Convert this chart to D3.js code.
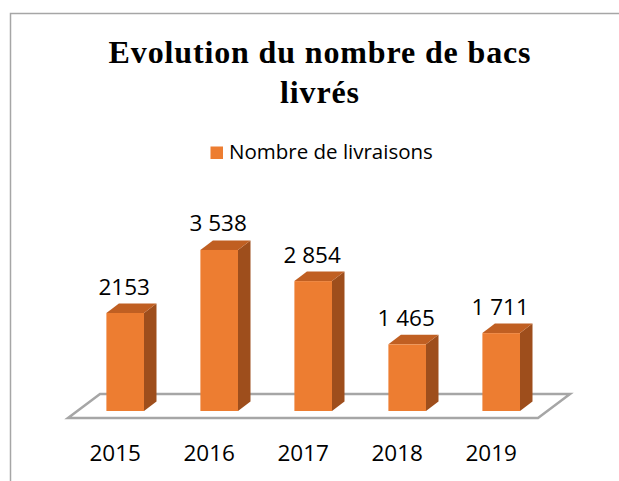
<!DOCTYPE html>
<html>
<head>
<meta charset="utf-8">
<script src="https://cdn.jsdelivr.net/npm/d3@7"></script>
<style>
  html, body { margin: 0; padding: 0; background: #fff; }
  svg { display: block; }
</style>
</head>
<body>
<svg id="chart" width="619" height="481"></svg>
<script>
// ---- data ----
const years = ["2015", "2016", "2017", "2018", "2019"];
const livraisons = [2153, 3538, 2854, 1465, 1711];
const valueLabels = ["2153", "3 538", "2 854", "1 465", "1 711"];
const seriesName = "Nombre de livraisons";
const titleLines = ["Evolution du nombre de bacs", "livrés"];

const svg = d3.select("#chart");
const W = 619, H = 481;

const colFront = "#ED7D31", colSide = "#9E4E1C", colTop = "#C05F22";
const gridGray = "#A6A6A6";

// frame (top + left edges visible)
svg.append("path")
  .attr("d", `M10.5,${H} L10.5,13.5 L${W},13.5`)
  .attr("fill", "none").attr("stroke", gridGray).attr("stroke-width", 1.5);

// title
const title = svg.append("text")
  .attr("text-anchor", "middle")
  .attr("font-family", "'Liberation Serif', 'Times New Roman', serif")
  .attr("font-weight", "bold")
  .attr("font-size", 32)
  .attr("fill", "#000");
title.selectAll("tspan").data(titleLines).join("tspan")
  .attr("x", 320)
  .attr("y", (d, i) => 63 + i * 39.5)
  .text(d => d);
// widen first line to the reference width with letter spacing
const first = title.select("tspan").node();
const w0 = first.getComputedTextLength();
const nChars = titleLines[0].length;
title.attr("letter-spacing", Math.max(0, (422 - w0) / (nChars - 1)));

// legend
const leg = svg.append("g");
leg.append("rect").attr("x", 210.5).attr("y", 146.5).attr("width", 12.5).attr("height", 12.5).attr("fill", colFront);
leg.append("text").attr("x", 229).attr("y", 159)
  .attr("font-family", "'Open Sans', sans-serif").attr("font-size", 20.5)
  .attr("fill", "#000").text(seriesName);

// scales
const x = d3.scaleBand().domain(years).range([50, 576.4]).paddingInner(0.6).paddingOuter(0.6);
const y = d3.scaleLinear().domain([0, 4000]).range([411, 411 - 4000 * (98 / 2153)]);

// floor (perspective parallelogram)
const dxF = 32, dyF = -24;
const fy = y(0) + 7;
const fx0 = 68, fx1 = 538;
svg.append("path")
  .attr("d", `M${fx0},${fy} L${fx1},${fy} L${fx1 + dxF},${fy + dyF} L${fx0 + dxF},${fy + dyF} Z`)
  .attr("fill", "#fff").attr("stroke", gridGray).attr("stroke-width", 2.5).attr("stroke-linejoin", "miter");

// bars (3D)
const ddx = 12.5, ddy = -9.5;
const data = years.map((yr, i) => ({ yr, v: livraisons[i], lab: valueLabels[i] }));
const bw = x.bandwidth();
const bars = svg.append("g").selectAll("g").data(data).join("g");
// side
bars.append("path").attr("fill", colSide)
  .attr("d", d => {
    const x1 = x(d.yr) + bw, t = y(d.v), b = y(0);
    return `M${x1},${b} L${x1},${t} L${x1 + ddx},${t + ddy} L${x1 + ddx},${b + ddy} Z`;
  });
// top
bars.append("path").attr("fill", colTop)
  .attr("d", d => {
    const x0 = x(d.yr), x1 = x0 + bw, t = y(d.v);
    return `M${x0},${t} L${x1},${t} L${x1 + ddx},${t + ddy} L${x0 + ddx},${t + ddy} Z`;
  });
// front
bars.append("rect").attr("fill", colFront)
  .attr("x", d => x(d.yr)).attr("y", d => y(d.v))
  .attr("width", bw).attr("height", d => y(0) - y(d.v));

// value labels
bars.append("text")
  .attr("text-anchor", "middle")
  .attr("font-family", "'Open Sans', sans-serif").attr("font-size", 22.5)
  .attr("fill", "#000")
  .attr("x", d => x(d.yr) + bw / 2 - 1)
  .attr("y", d => y(d.v) + ddy - 9)
  .text(d => d.lab);

// category axis labels
svg.append("g").selectAll("text").data(years).join("text")
  .attr("text-anchor", "middle")
  .attr("font-family", "'Open Sans', sans-serif").attr("font-size", 22.5)
  .attr("fill", "#000")
  .attr("x", d => x(d) + bw / 2 - 10)
  .attr("y", 461)
  .text(d => d);
</script>
</body>
</html>
